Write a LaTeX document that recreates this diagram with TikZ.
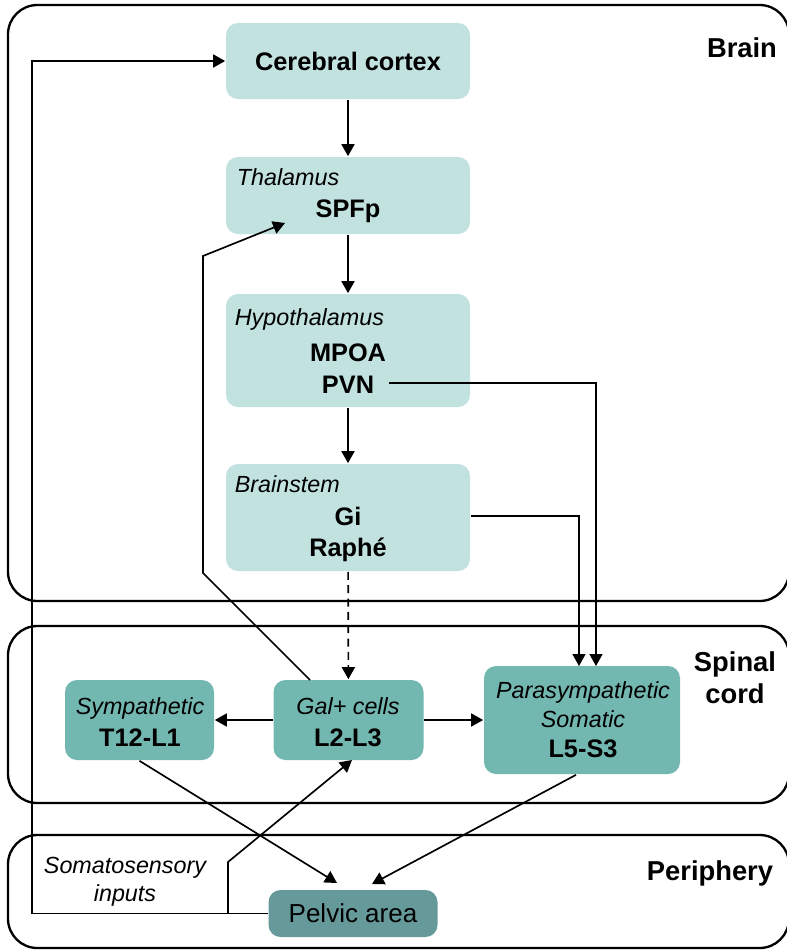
\documentclass[tikz,border=0pt]{standalone}
\usepackage{fontspec}
\setmainfont{Liberation Sans}
\usetikzlibrary{arrows.meta}
\definecolor{brainfill}{HTML}{C2E2E0}
\definecolor{cordfill}{HTML}{73B7B1}
\definecolor{pelvisfill}{HTML}{65999A}
\newcommand{\regionfont}{\fontsize{17.5}{21}\selectfont\itshape}
\newcommand{\sitefont}{\fontsize{19}{22}\selectfont\bfseries}
\newcommand{\levelfont}{\fontsize{20.5}{24}\selectfont\bfseries}
\begin{document}
\begin{tikzpicture}[x=0.75pt,y=-0.75pt,line width=1.25pt,
    >={Triangle[length=9pt,width=9.75pt]},
    frame/.style={draw,line width=1.75pt,rounded corners=22pt},
    brainbox/.style={fill=brainfill,rounded corners=9pt,inner sep=0pt,minimum width=183pt},
    cordbox/.style={fill=cordfill,rounded corners=9pt,inner sep=0pt},
    region/.style={font=\regionfont,inner sep=0pt},
    site/.style={font=\sitefont,inner sep=0pt},
    level/.style={font=\levelfont,inner sep=0pt,align=center}]
      \useasboundingbox (0,0) rectangle (787,951);
      % levels
      \draw[frame] (8,5) rectangle (789,601);
      \draw[frame] (8,626) rectangle (789,803);
      \draw[frame] (8,835) rectangle (789,948);
      \node[level,anchor=base] (brain) at (742,57) {Brain};
      \node[level] (cord) at (735,678) {Spinal\\cord};
      \node[level,anchor=base] (periph) at (710,880) {Periphery};
      % brain
      \node[brainbox,site,minimum height=57pt] (cortex) at (348,61) {Cerebral cortex};
      \node[brainbox,minimum height=57.75pt] (thal) at (348,195.5) {};
      \node[region,anchor=base west] (thalname) at (236,185) {Thalamus};
      \node[site,anchor=base] (spfp) at (348,217) {SPFp};
      \node[brainbox,minimum height=84.75pt] (hypo) at (348,350.5) {};
      \node[region,anchor=base west] (hyponame) at (234,325) {Hypothalamus};
      \node[site,anchor=base] (mpoa) at (348,361) {MPOA};
      \node[site,anchor=base] (pvn) at (348,393) {PVN};
      \node[brainbox,minimum height=80.25pt] (stem) at (348,517.5) {};
      \node[region,anchor=base west] (stemname) at (234,492) {Brainstem};
      \node[site,anchor=base] (gi) at (348,525) {Gi};
      \node[site,anchor=base] (raphe) at (348,556) {Raphé};
      % spinal cord
      \node[cordbox,minimum width=111.75pt,minimum height=60pt] (symp) at (139.5,720) {};
      \node[region,anchor=base] (sympname) at (140,714) {Sympathetic};
      \node[site,anchor=base] (t12) at (140,746) {T12-L1};
      \node[cordbox,minimum width=112.5pt,minimum height=60pt] (gal) at (348.5,720) {};
      \node[region,anchor=base] (galname) at (348,714) {Gal+ cells};
      \node[site,anchor=base] (l2) at (348,746) {L2-L3};
      \node[cordbox,minimum width=147pt,minimum height=81pt] (para) at (582,720) {};
      \node[region,anchor=base] (paraname) at (583,698) {Parasympathetic};
      \node[region,anchor=base] (somname) at (583,727) {Somatic};
      \node[site,anchor=base] (l5) at (583,757) {L5-S3};
      % periphery
      \node[fill=pelvisfill,rounded corners=9pt,inner sep=0pt,minimum width=126.75pt,
        minimum height=35.25pt,font=\fontsize{19.5}{22}\selectfont] (pelvic) at (353,913.5) {Pelvic area};
      \node[region,align=center] (soma) at (125,882) {Somatosensory\\inputs};
      % free ends
      \coordinate (pvnout) at (389,383);
      \coordinate (parain1) at (579,666);
      \coordinate (parain2) at (596,666);
      \coordinate (galout) at (310,680);
      \coordinate (thalin) at (285,223);
      \coordinate (galin) at (352,760);
      \coordinate (somajoin) at (228,913.5);
      \coordinate (pelvin1) at (337,883);
      \coordinate (pelvin2) at (372,884);
      \begin{scope}[->]
        \draw (cortex) to (thal);
        \draw (thal) to (hypo);
        \draw (hypo) to (stem);
        \draw[dash pattern=on 6pt off 4pt] (stem) to (gal);
        \draw (gal) to (symp);
        \draw (gal) to (para);
        \draw (pvnout) -| (parain2);
        \draw (stem.east |- gi) -| (parain1);
        \draw (galout) -- (203,573) -- (203,256) -- (thalin);
        \draw (pelvic.west) -| (32,61) -- (cortex.west);
        \draw (somajoin) -- (228,862) -- (galin);
        \draw (symp.south) to (pelvin1);
        \draw ([xshift=-4.5pt]para.south) to (pelvin2);
      \end{scope}
    \end{tikzpicture}
\end{document}
